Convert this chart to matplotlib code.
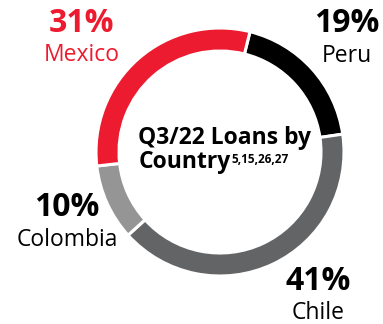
import matplotlib
matplotlib.use("Agg")
from matplotlib import pyplot as plt

# Q3/22 loan mix by country, clockwise from the top
countries = ["Peru", "Chile", "Colombia", "Mexico"]
shares = [19, 41, 10, 31]
colors = ["#000000", "#636466", "#959595", "#ED1B2F"]
label_colors = ["#000000", "#000000", "#000000", "#ED1B2F"]

# label anchor (x, y) in pixels from top-left, one per country
label_pos = [(347, 24), (318, 281), (67, 208), (82, 23)]

W, H = 383, 324
plt.rcParams["font.family"] = ["Open Sans", "DejaVu Sans"]

fig = plt.figure(figsize=(W / 100, H / 100), dpi=100)
ax = fig.add_axes([0, 0, 1, 1])

cx, cy, r = 220, H - 152, 124
ax.pie(shares, colors=colors, startangle=76, counterclock=False,
       center=(cx, cy), radius=r,
       wedgeprops=dict(width=23, edgecolor="white", linewidth=2.2))
ax.set_xlim(0, W)
ax.set_ylim(0, H)
ax.set_aspect("auto")
ax.axis("off")

for name, val, col, (x, y) in zip(countries, shares, label_colors, label_pos):
    ax.text(x, H - y, "%d%%" % val, ha="center", va="center",
            fontsize=23, fontweight="bold", color=col)
    ax.text(x, H - y - 32, name, ha="center", va="center",
            fontsize=16.5, color=col)

ax.text(224, H - 138, "Q3/22 Loans by", ha="center", va="center",
        fontsize=16.5, fontweight="bold")
t = ax.text(231, H - 162, "Country", ha="right", va="center",
            fontsize=16.5, fontweight="bold")
ax.annotate("5,15,26,27", xy=(1, 0.62), xycoords=t, ha="left", va="center",
            fontsize=8.5, fontweight="bold")

fig.savefig("out.png", dpi=100)
